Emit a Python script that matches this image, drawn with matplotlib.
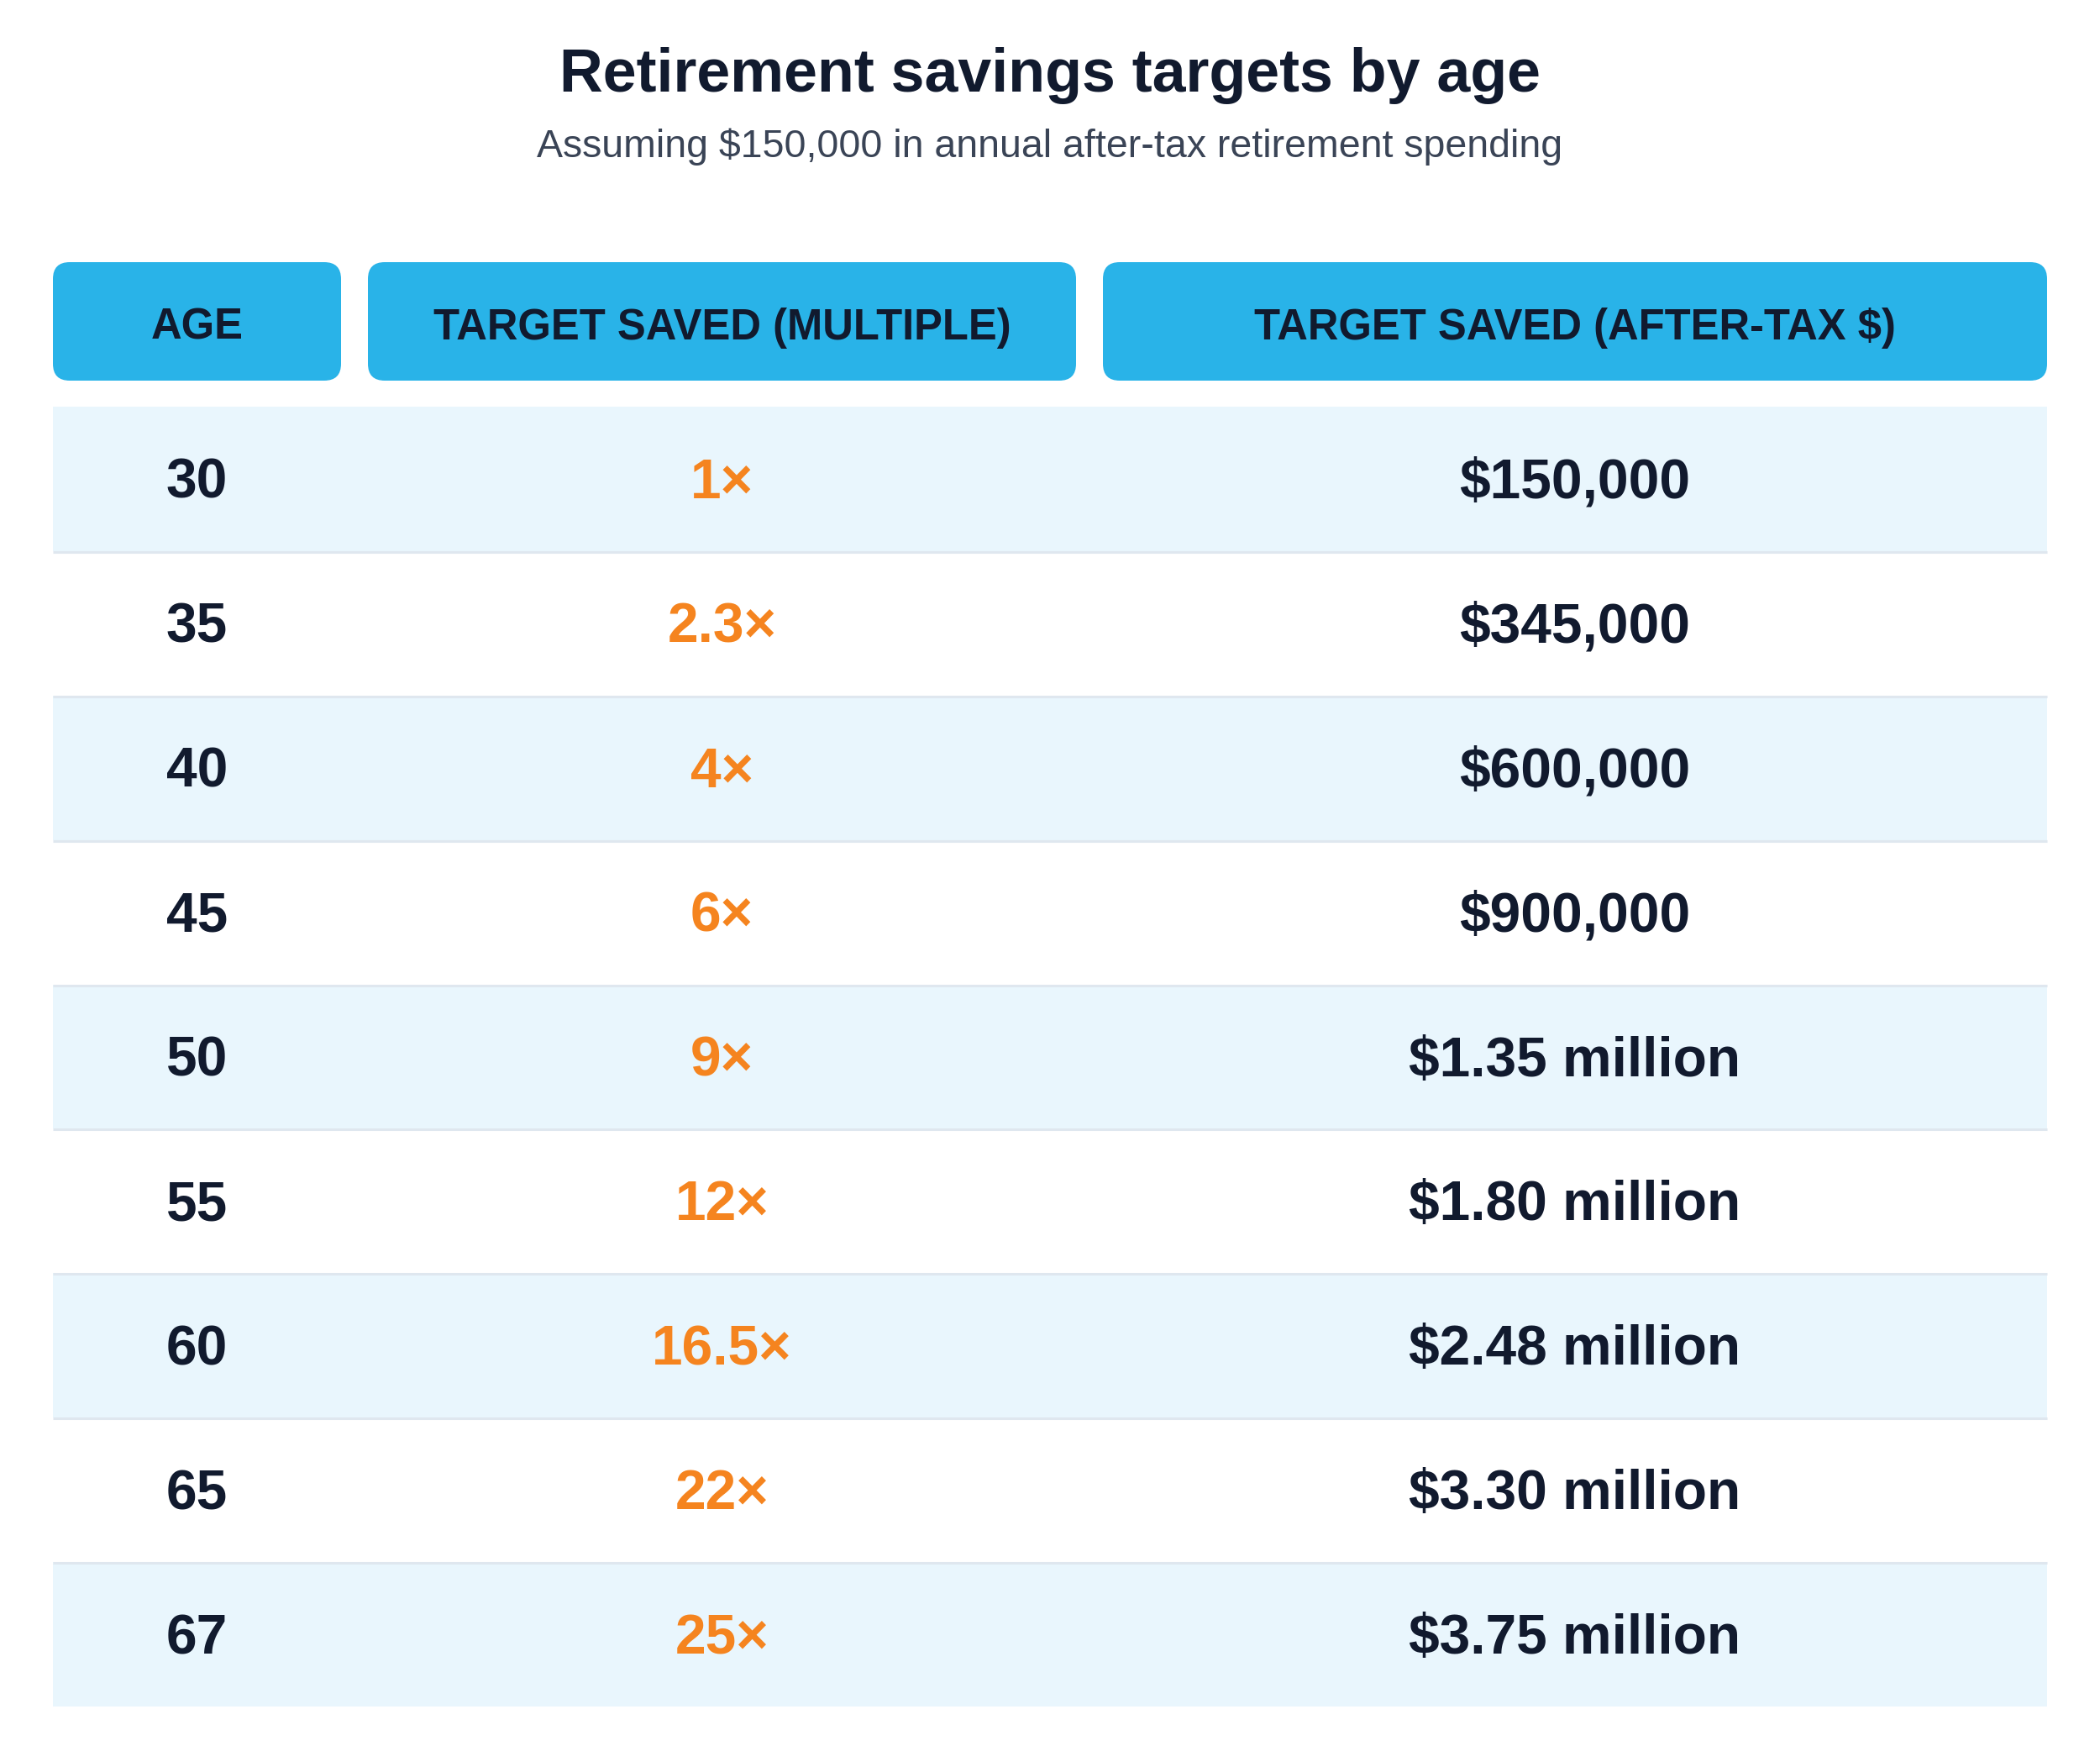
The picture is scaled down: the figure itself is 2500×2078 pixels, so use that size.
import matplotlib
matplotlib.use("Agg")
import matplotlib.pyplot as plt
from matplotlib.patches import FancyBboxPatch, Rectangle

plt.rcParams['font.family'] = ['Liberation Sans', 'DejaVu Sans']

# ---- data ----
title = "Retirement savings targets by age"
subtitle = "Assuming $150,000 in annual after-tax retirement spending"
headers = ["AGE", "TARGET SAVED (MULTIPLE)", "TARGET SAVED (AFTER-TAX $)"]
ages = ["30", "35", "40", "45", "50", "55", "60", "65", "67"]
multiples = ["1×", "2.3×", "4×", "6×", "9×", "12×", "16.5×", "22×", "25×"]
amounts = ["$150,000", "$345,000", "$600,000", "$900,000", "$1.35 million",
           "$1.80 million", "$2.48 million", "$3.30 million", "$3.75 million"]

# ---- style / layout ----
W, H = 2500, 2078
DARK = "#111a2e"
SUB = "#3a4456"
HEAD = "#29b3e8"
BAND = "#e9f6fd"
LINE = "#dfe7ef"
ORANGE = "#f5841f"

col_x = [(63, 406), (438, 1281), (1313, 2437)]
head_top, head_bot = 312, 453
row_top = 484
row_bot = 2031

fig = plt.figure(figsize=(W / 100, H / 100), dpi=100)
ax = fig.add_axes([0, 0, 1, 1])
ax.set_xlim(0, W)
ax.set_ylim(H, 0)
ax.axis("off")

ax.text(W / 2, 109, title, ha="center", va="baseline", fontsize=51.7,
        fontweight="bold", color=DARK)
ax.text(W / 2, 187, subtitle, ha="center", va="baseline", fontsize=33.5,
        color=SUB)

# header boxes
r = 20
for (x0, x1), h in zip(col_x, headers):
    box = FancyBboxPatch((x0 + r, head_top + r), (x1 - x0) - 2 * r,
                         (head_bot - head_top) - 2 * r,
                         boxstyle=f"round,pad={r}", fc=HEAD, ec="none")
    ax.add_patch(box)
    ax.text((x0 + x1) / 2, 404, h, ha="center", va="baseline",
            fontsize=36.5, fontweight="bold", color=DARK)

# rows
left, right = col_x[0][0], col_x[2][1]
n = len(ages)
row_h = (row_bot - row_top) / n
for i in range(n):
    y0 = row_top + i * row_h
    if i % 2 == 0:
        ax.add_patch(Rectangle((left, y0), right - left, row_h, fc=BAND,
                               ec="none", zorder=1))
    if i < n - 1:
        yl = y0 + row_h + 1
        ax.plot([left, right], [yl, yl], color=LINE, lw=2.2,
                zorder=2, solid_capstyle="butt")
    yb = y0 + row_h / 2 + 23
    cols = [ages[i], multiples[i], amounts[i]]
    colors = [DARK, ORANGE, DARK]
    for (x0, x1), t, c in zip(col_x, cols, colors):
        ax.text((x0 + x1) / 2, yb, t, ha="center", va="baseline",
                fontsize=47.4, fontweight="bold", color=c, zorder=3)

fig.savefig("out.png", dpi=100, facecolor="white")
